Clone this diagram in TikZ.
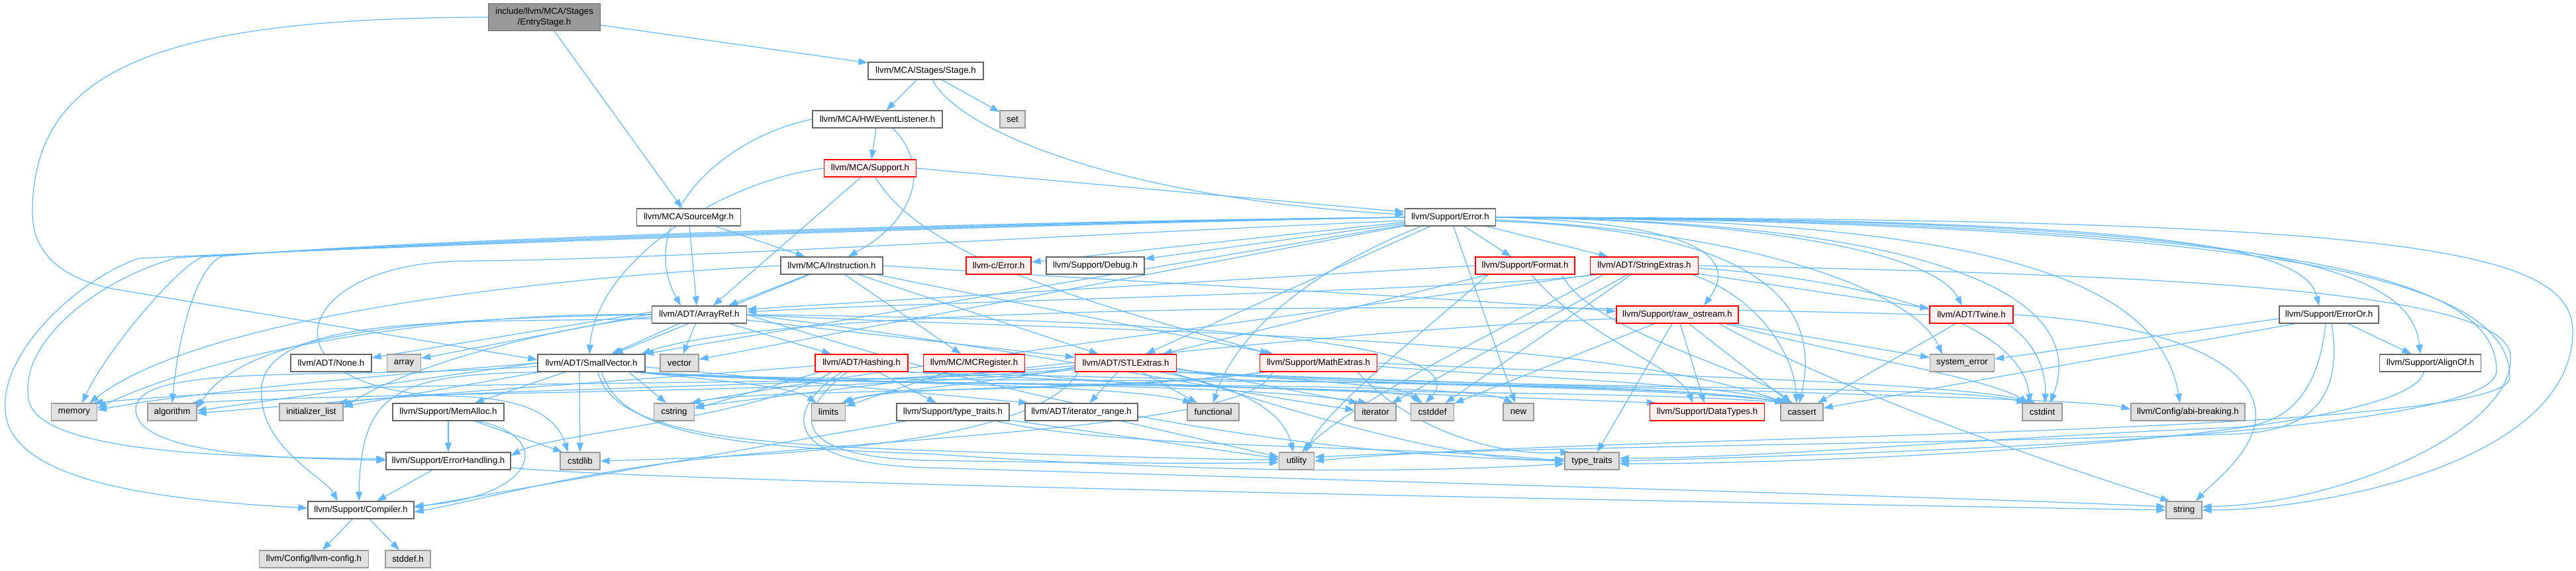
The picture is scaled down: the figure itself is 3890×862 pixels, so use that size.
\documentclass[tikz,border=0pt]{standalone}
\usepackage{fontspec}
\setmainfont{Liberation Sans}
\usetikzlibrary{arrows.meta,calc}
\pgfdeclarelayer{bg}
\pgfsetlayers{bg,main}
\definecolor{edgec}{HTML}{63B8FF}
\definecolor{bdgray}{HTML}{666666}
\definecolor{sysbd}{HTML}{999999}
\definecolor{sysfill}{HTML}{E0E0E0}
\definecolor{rootfill}{HTML}{999999}
\definecolor{redfill}{HTML}{FFF0F0}
\definecolor{redbd}{HTML}{FF0000}
\tikzset{
 nbox/.style={rectangle, line width=1.3pt, minimum height=26pt, inner sep=0pt, font=\fontsize{13.3pt}{15.5pt}\selectfont, text=black},
 wn/.style={nbox, draw=bdgray, fill=white},
 gn/.style={nbox, draw=sysbd, fill=sysfill},
 rn/.style={nbox, draw=redbd, fill=redfill},
 rootn/.style={nbox, draw=bdgray, fill=rootfill, align=center, minimum height=41pt},
 ed/.style={draw=edgec, line width=1.2pt, -{Triangle[length=14pt,width=10pt]}},
}
\begin{document}
\begin{tikzpicture}[x=1pt,y=-1pt]
\useasboundingbox (0,0) rectangle (3890,862);
% nodes
\node[rootn, minimum width=169pt] (root) at (822,26) {include/llvm/MCA/Stages\\/EntryStage.h};
\node[wn, minimum width=174pt] (stage) at (1398,107) {llvm/MCA/Stages/Stage.h};
\node[wn, minimum width=196pt] (hw) at (1325,180) {llvm/MCA/HWEventListener.h};
\node[gn, minimum width=38pt] (set) at (1529,180) {set};
\node[rn, minimum width=139pt] (mcasup) at (1314,254) {llvm/MCA/Support.h};
\node[wn, minimum width=157pt] (srcmgr) at (1040,328) {llvm/MCA/SourceMgr.h};
\node[wn, minimum width=137pt] (err) at (2190,328) {llvm/Support/Error.h};
\node[wn, minimum width=154pt] (instr) at (1256,401) {llvm/MCA/Instruction.h};
\node[rn, minimum width=98pt] (cerr) at (1508,401) {llvm-c/Error.h};
\node[wn, minimum width=148pt] (debug) at (1654,401) {llvm/Support/Debug.h};
\node[rn, minimum width=150pt] (format) at (2303,401) {llvm/Support/Format.h};
\node[rn, minimum width=163pt] (strext) at (2483,401) {llvm/ADT/StringExtras.h};
\node[wn, minimum width=143pt] (aref) at (1056,475) {llvm/ADT/ArrayRef.h};
\node[rn, minimum width=184pt] (rawos) at (2533,475) {llvm/Support/raw\_ostream.h};
\node[rn, minimum width=126pt] (twine) at (2977,475) {llvm/ADT/Twine.h};
\node[wn, minimum width=150pt] (erroror) at (3517,475) {llvm/Support/ErrorOr.h};
\node[wn, minimum width=122pt] (none) at (500,548) {llvm/ADT/None.h};
\node[gn, minimum width=51pt] (array) at (610,548) {array};
\node[wn, minimum width=162pt] (sv) at (893,548) {llvm/ADT/SmallVector.h};
\node[gn, minimum width=58pt] (vector) at (1026,548) {vector};
\node[rn, minimum width=140pt] (hashing) at (1301,548) {llvm/ADT/Hashing.h};
\node[rn, minimum width=153pt] (mcreg) at (1471,548) {llvm/MC/MCRegister.h};
\node[rn, minimum width=153pt] (stlext) at (1700,548) {llvm/ADT/STLExtras.h};
\node[rn, minimum width=177pt] (mathext) at (1991,548) {llvm/Support/MathExtras.h};
\node[gn, minimum width=97pt] (syserr) at (2963,548) {system\_error};
\node[wn, minimum width=153pt] (alignof) at (3670,548) {llvm/Support/AlignOf.h};
\node[gn, minimum width=69pt] (memory) at (112,622) {memory};
\node[gn, minimum width=74pt] (algorithm) at (260,622) {algorithm};
\node[gn, minimum width=96pt] (initlist) at (470,622) {initializer\_list};
\node[wn, minimum width=168pt] (memalloc) at (677,622) {llvm/Support/MemAlloc.h};
\node[gn, minimum width=61pt] (cstring) at (1018,622) {cstring};
\node[gn, minimum width=51pt] (limits) at (1251,622) {limits};
\node[wn, minimum width=170pt] (ttraitsh) at (1439,622) {llvm/Support/type\_traits.h};
\node[wn, minimum width=170pt] (itrange) at (1633,622) {llvm/ADT/iterator\_range.h};
\node[gn, minimum width=78pt] (functional) at (1832,622) {functional};
\node[gn, minimum width=62pt] (iterator) at (2077,622) {iterator};
\node[gn, minimum width=65pt] (cstddef) at (2163,622) {cstddef};
\node[gn, minimum width=46pt] (new) at (2293,622) {new};
\node[rn, minimum width=173pt] (datatypes) at (2578,622) {llvm/Support/DataTypes.h};
\node[gn, minimum width=64pt] (cassert) at (2721,622) {cassert};
\node[gn, minimum width=60pt] (cstdint) at (3084,622) {cstdint};
\node[gn, minimum width=172pt] (abibrk) at (3304,622) {llvm/Config/abi-breaking.h};
\node[wn, minimum width=188pt] (errhand) at (677,696) {llvm/Support/ErrorHandling.h};
\node[gn, minimum width=60pt] (cstdlib) at (876,696) {cstdlib};
\node[gn, minimum width=53pt] (utility) at (1958,696) {utility};
\node[gn, minimum width=82pt] (typetraits) at (2404,696) {type\_traits};
\node[wn, minimum width=160pt] (compiler) at (545,770) {llvm/Support/Compiler.h};
\node[gn, minimum width=54pt] (string) at (3298,770) {string};
\node[gn, minimum width=165pt] (llvmcfg) at (474,844) {llvm/Config/llvm-config.h};
\node[gn, minimum width=68pt] (stddef) at (616,844) {stddef.h};

\begin{pgfonlayer}{bg}
\fill[white] (0,0) rectangle (3890,862);
% root
\draw[ed] (root) -- (stage);
\draw[ed] (root) -- (srcmgr);
\draw[ed] (root.west) .. controls (250,27) and (49,100) .. (49,320) .. controls (49,400) and (120,425) .. (170,436) -- ($(sv.west)+(0,-5)$);
% stage
\draw[ed] (stage) -- (hw);
\draw[ed] (stage) -- (set);
\draw[ed] ($(stage.south)+(10,0)$) .. controls (1450,200) and (1700,300) .. ($(err.west)+(0,-4)$);
% hw
\draw[ed] (hw) -- (mcasup);
\draw[ed] ($(hw.south)+(23,0)$) .. controls (1405,250) and (1385,330) .. ($(instr.north)+(25,0)$);
\draw[ed] (hw.west) .. controls (1080,210) and (960,340) .. ($(aref.north)+(-28,0)$);
% mca support
\draw[ed] (mcasup.west) .. controls (1080,275) and (900,400) .. ($(sv.north)+(-3,0)$);
\draw[ed] ($(mcasup.south)+(-14,0)$) -- ($(aref.north)+(21,0)$);
\draw[ed] (mcasup.east) -- ($(err.west)+(0,-8)$);
\draw[ed] ($(mcasup.south)+(8,0)$) .. controls (1400,400) and (1700,470) .. ($(mathext.north west)+(15,0)$);
% source mgr
\draw[ed] (srcmgr) -- ($(aref.north)+(-4,0)$);
\draw[ed] (srcmgr) -- (instr);
% instruction
\draw[ed] ($(instr.south)+(-36,0)$) -- ($(aref.north)+(44,0)$);
\draw[ed] (instr) -- (sv);
\draw[ed] (instr) -- (stlext);
\draw[ed] (instr) -- (mcreg);
\draw[ed] (instr) -- (mathext);
\draw[ed] (instr.west) .. controls (800,420) and (300,480) .. ($(memory.north east)+(-12,0)$);
\draw[ed] (instr.east) .. controls (1700,425) and (2200,450) .. ($(rawos.west)+(0,-5)$);
% error.h
\draw[ed] (err) -- (cerr);
\draw[ed] (err) -- (debug);
\draw[ed] (err) -- (format);
\draw[ed] (err) -- (strext);
\draw[ed] (err) -- (sv);
\draw[ed] (err) -- (vector);
\draw[ed] (err) -- (stlext);
\draw[ed] ($(err.south west)+(25,0)$) .. controls (1950,420) and (1860,520) .. (functional.north);
\draw[ed] (err) -- (new);
\draw[ed] (err.west) .. controls (1500,334) and (600,362) .. (335,387) .. controls (305,397) and (272,480) .. (algorithm.north);
\draw[ed] (err.west) .. controls (1500,336) and (600,365) .. (306,388) .. controls (270,400) and (160,530) .. ($(memory.north)+(12,0)$);
\draw[ed] (err.west) .. controls (1500,338) and (600,368) .. (268,389) .. controls (150,420) and (20,520) .. (45,610) .. controls (75,690) and (400,690) .. ($(errhand.west)+(0,-3)$);
\draw[ed] (err.west) .. controls (1500,340) and (600,371) .. (210,390) .. controls (120,420) and (0,530) .. (8,620) .. controls (15,730) and (250,755) .. ($(compiler.west)+(0,-3)$);
\draw[ed] ($(err.west)+(0,5)$) .. controls (1500,360) and (1000,392) .. (700,394) .. controls (430,398) and (390,590) .. (680,598) .. controls (800,600) and (840,630) .. ($(cstdlib.north)+(-18,0)$);
\draw[ed] (err.east) .. controls (2500,335) and (2640,370) .. ($(rawos.north)+(40,0)$);
\draw[ed] (err.east) .. controls (2650,332) and (2920,380) .. ($(twine.north)+(-14,0)$);
\draw[ed] ($(err.east)+(0,4)$) .. controls (2650,350) and (2890,440) .. ($(syserr.north)+(-30,0)$);
\draw[ed] ($(err.east)+(0,6)$) .. controls (2600,345) and (2760,430) .. ($(cassert.north)+(-4,0)$);
\draw[ed] (err.east) .. controls (2900,333) and (3160,440) .. ($(cstdint.north)+(12,0)$);
\draw[ed] (err.east) .. controls (3000,330) and (3260,420) .. ($(abibrk.north)+(-12,0)$);
\draw[ed] (err.east) .. controls (3250,330) and (3480,370) .. ($(erroror.north)+(-15,0)$);
\draw[ed] (err.east) .. controls (3420,330) and (3640,400) .. ($(alignof.north)+(-15,0)$);
\draw[ed] (err.east) .. controls (3600,330) and (3885,370) .. (3885,500) .. controls (3885,700) and (3500,770) .. (string.east);
\draw[ed] (err.east) .. controls (3480,334) and (3770,420) .. (3770,560) .. controls (3770,650) and (3000,680) .. (typetraits.east);
\draw[ed] (err.east) .. controls (3500,338) and (3790,430) .. (3790,570) .. controls (3790,660) and (2400,655) .. (utility.east);
% arrayref
\draw[ed] (aref) -- (vector);
\draw[ed] (aref) -- (sv);
\draw[ed] ($(aref.west)+(0,-4)$) -- ($(none.east)+(0,-8)$);
\draw[ed] ($(aref.west)+(0,-1)$) -- ($(array.east)+(0,-7)$);
\draw[ed] (aref) -- (hashing);
\draw[ed] (aref) -- (stlext);
\draw[ed] ($(aref.west)+(0,6)$) .. controls (700,488) and (380,470) .. (395,600) .. controls (400,680) and (490,720) .. ($(compiler.north)+(-35,0)$);
\draw[ed] (aref.west) .. controls (700,480) and (380,490) .. ($(algorithm.east)+(0,-6)$);
\draw[ed] (aref.west) .. controls (700,470) and (350,520) .. ($(memory.east)+(0,-6)$);
\draw[ed] ($(aref.west)+(0,3)$) .. controls (800,500) and (600,560) .. ($(initlist.east)+(0,-6)$);
\draw[ed] (aref.east) .. controls (1600,500) and (2400,500) .. ($(cassert.north west)+(8,0)$);
\draw[ed] (aref.east) .. controls (1600,480) and (2250,500) .. ($(cstddef.north)+(-10,0)$);
\draw[ed] (aref.east) .. controls (1500,520) and (1850,590) .. ($(iterator.west)+(0,-3)$);
\draw[ed] (aref.east) .. controls (1400,560) and (1800,680) .. (typetraits.west);
% smallvector
\draw[ed] ($(sv.east)+(0,6)$) -- ($(itrange.north west)+(5,0)$);
\draw[ed] ($(sv.south west)+(5,0)$) .. controls (600,565) and (545,590) .. ($(compiler.north)+(-3,0)$);
\draw[ed] ($(sv.west)+(0,5)$) .. controls (500,575) and (200,545) .. (205,620) .. controls (210,690) and (450,692) .. ($(errhand.west)+(0,-1)$);
\draw[ed] (sv) -- (memalloc);
\draw[ed] (sv.west) -- ($(algorithm.east)+(0,-2)$);
\draw[ed] ($(sv.south east)+(-12,0)$) .. controls (1300,585) and (2400,560) .. ($(cassert.north west)+(14,0)$);
\draw[ed] ($(sv.south east)+(-14,0)$) .. controls (1300,588) and (2100,575) .. ($(cstddef.north)+(-15,0)$);
\draw[ed] ($(sv.south east)+(-25,0)$) -- ($(cstring.north)+(-12,0)$);
\draw[ed] ($(sv.south east)+(-8,0)$) .. controls (1300,580) and (1700,580) .. ($(functional.north west)+(8,0)$);
\draw[ed] ($(sv.south east)+(-10,0)$) .. controls (1300,583) and (1850,575) .. ($(iterator.north)+(-12,0)$);
\draw[ed] ($(sv.south east)+(-18,0)$) .. controls (1100,575) and (1200,585) .. ($(limits.north west)+(8,0)$);
\draw[ed] ($(sv.south east)+(-16,0)$) .. controls (1300,590) and (2200,570) .. ($(new.north)+(-8,0)$);
\draw[ed] ($(sv.south)+(16,0)$) .. controls (935,655) and (1100,675) .. (1400,685) .. controls (1800,712) and (2100,716) .. ($(typetraits.west)+(0,4)$);
\draw[ed] ($(sv.south)+(10,0)$) .. controls (925,650) and (1100,670) .. (1400,680) .. controls (1700,690) and (1850,694) .. ($(utility.west)+(0,-2)$);
\draw[ed] ($(sv.south)+(-18,0)$) -- (cstdlib.north);
\draw[ed] (sv) -- (initlist);
\draw[ed] (sv.west) .. controls (600,565) and (300,590) .. ($(memory.east)+(0,-3)$);
% memalloc, errorhandling, compiler
\draw[ed] (memalloc) -- (errhand);
\draw[ed] ($(memalloc.south east)+(-45,0)$) -- ($(cstdlib.north west)+(4,0)$);
\draw[ed] ($(memalloc.south east)+(-40,0)$) .. controls (840,660) and (810,750) .. ($(compiler.east)+(0,-6)$);
\draw[ed] (errhand) -- (compiler);
\draw[ed] ($(errhand.east)+(0,10)$) .. controls (1000,730) and (2800,762) .. (string.west);
\draw[ed] (compiler) -- (llvmcfg);
\draw[ed] (compiler) -- (stddef);
% support type_traits, iterator_range
\draw[ed] ($(ttraitsh.south west)+(15,0)$) -- ($(compiler.east)+(0,-4)$);
\draw[ed] ($(ttraitsh.south east)+(-20,0)$) .. controls (1700,680) and (2100,670) .. (typetraits.west);
\draw[ed] (ttraitsh) -- (utility);
\draw[ed] (itrange) -- (utility);
% hashing
\draw[ed] (hashing) -- (ttraitsh);
\draw[ed] ($(hashing.south west)+(25,0)$) .. controls (1150,630) and (830,655) .. ($(errhand.east)+(0,-8)$);
\draw[ed] (hashing.south east) .. controls (1700,580) and (2300,600) .. ($(datatypes.north west)+(10,0)$);
\draw[ed] ($(hashing.west)+(0,4)$) .. controls (1150,560) and (700,590) .. ($(algorithm.east)+(0,2)$);
\draw[ed] ($(hashing.south east)+(-5,0)$) .. controls (1800,575) and (2500,580) .. ($(cassert.north)+(-12,0)$);
\draw[ed] ($(hashing.south west)+(8,0)$) -- ($(cstring.east)+(0,-5)$);
\draw[ed] ($(hashing.south)+(-30,0)$) .. controls (1180,620) and (1180,700) .. (1400,706) .. controls (2200,730) and (3000,752) .. ($(string.west)+(0,-5)$);
\draw[ed] ($(hashing.south)+(-22,0)$) .. controls (1190,630) and (1200,690) .. (1400,695) .. controls (1700,700) and (1850,700) .. ($(utility.west)+(0,2)$);
% mcregister
\draw[ed] (mcreg) -- (limits);
\draw[ed] ($(mcreg.south east)+(-20,0)$) .. controls (1800,600) and (2400,585) .. ($(cassert.north)+(-18,0)$);
% stlextras
\draw[ed] (stlext) -- (itrange);
\draw[ed] (stlext) -- (functional);
\draw[ed] ($(stlext.south east)+(-25,0)$) .. controls (1850,580) and (1935,610) .. ($(utility.north)+(-5,0)$);
\draw[ed] ($(stlext.east)+(0,8)$) -- ($(iterator.north west)+(6,0)$);
\draw[ed] ($(stlext.east)+(0,10)$) .. controls (1950,575) and (2120,580) .. ($(cstddef.north)+(-20,0)$);
\draw[ed] (stlext.south east) .. controls (2100,585) and (2550,580) .. ($(cassert.north west)+(6,0)$);
\draw[ed] (stlext.south east) .. controls (2300,590) and (2950,580) .. ($(cstdint.north west)+(6,0)$);
\draw[ed] ($(stlext.south east)+(-10,0)$) .. controls (1950,620) and (2200,700) .. ($(typetraits.west)+(0,-3)$);
\draw[ed] ($(stlext.west)+(0,6)$) .. controls (1500,580) and (1320,590) .. ($(limits.north east)+(-6,0)$);
\draw[ed] ($(stlext.west)+(0,8)$) .. controls (1300,590) and (600,565) .. ($(memory.north east)+(-6,0)$);
\draw[ed] ($(stlext.west)+(0,10)$) .. controls (1300,595) and (600,590) .. ($(algorithm.north east)+(-8,0)$);
\draw[ed] ($(stlext.west)+(0,4)$) .. controls (1300,585) and (700,585) .. ($(initlist.north east)+(-8,0)$);
\draw[ed] ($(stlext.south west)+(5,0)$) .. controls (1560,680) and (1100,690) .. (cstdlib.east);
\draw[ed] (stlext.south east) .. controls (2500,590) and (3150,600) .. ($(abibrk.west)+(0,-4)$);
% mathextras
\draw[ed] ($(mathext.east)+(0,5)$) .. controls (2300,570) and (2600,580) .. ($(cassert.north west)+(10,0)$);
\draw[ed] (mathext.east) .. controls (2400,565) and (2950,575) .. ($(cstdint.north)+(-10,0)$);
\draw[ed] ($(mathext.south west)+(10,0)$) .. controls (1700,590) and (1350,580) .. ($(limits.north east)+(-3,0)$);
\draw[ed] ($(mathext.south west)+(5,0)$) .. controls (1700,595) and (1150,585) .. ($(cstring.north east)+(-5,0)$);
\draw[ed] ($(mathext.south east)+(-30,0)$) .. controls (2120,640) and (2250,690) .. ($(typetraits.north west)+(8,0)$);
\draw[ed] ($(mathext.south west)+(20,0)$) .. controls (1890,650) and (1300,660) .. (1000,700) .. controls (850,720) and (700,760) .. ($(compiler.east)+(0,3)$);
% stringextras
\draw[ed] ($(strext.south west)+(10,0)$) .. controls (2200,440) and (1400,455) .. ($(aref.east)+(0,-4)$);
\draw[ed] (strext) -- (twine);
\draw[ed] (strext) -- (iterator);
\draw[ed] (strext) -- (cstddef);
\draw[ed] ($(strext.south east)+(-10,0)$) .. controls (2660,450) and (2710,540) .. ($(cassert.north)+(-8,0)$);
\draw[ed] ($(strext.east)+(0,4)$) .. controls (2800,420) and (3050,480) .. ($(cstdint.north)+(-18,0)$);
\draw[ed] (strext.east) .. controls (3300,415) and (3760,440) .. (3790,530) .. controls (3810,640) and (3550,760) .. ($(string.east)+(0,-5)$);
\draw[ed] ($(strext.south west)+(20,0)$) .. controls (2300,480) and (2050,600) .. ($(utility.north)+(8,0)$);
\draw[ed] ($(strext.south west)+(4,0)$) .. controls (2000,470) and (1300,560) .. ($(cstring.north east)+(-6,0)$);
% format
\draw[ed] (format.west) .. controls (1900,420) and (1400,450) .. ($(aref.east)+(0,-8)$);
\draw[ed] (format) -- (stlext);
\draw[ed] ($(format.south)+(10,0)$) .. controls (2380,500) and (2540,560) .. ($(datatypes.north)+(-22,0)$);
\draw[ed] ($(format.south east)+(-20,0)$) .. controls (2400,500) and (2650,560) .. ($(cassert.north)+(-16,0)$);
\draw[ed] ($(format.south west)+(20,0)$) .. controls (2150,500) and (2000,620) .. ($(utility.north)+(14,0)$);
% raw_ostream
\draw[ed] (rawos) -- (datatypes);
\draw[ed] (rawos) -- (cassert);
\draw[ed] (rawos) -- (cstddef);
\draw[ed] ($(rawos.south east)+(-20,0)$) .. controls (2800,540) and (3000,570) .. ($(cstdint.north west)+(10,0)$);
\draw[ed] (rawos) -- (syserr);
\draw[ed] (rawos) -- (typetraits);
\draw[ed] ($(rawos.south east)+(-30,0)$) .. controls (2800,600) and (3100,700) .. ($(string.north west)+(6,0)$);
\draw[ed] ($(rawos.west)+(0,6)$) .. controls (2000,500) and (1400,570) .. ($(cstring.east)+(0,-8)$);
% twine
\draw[ed] (twine.west) .. controls (2000,450) and (1150,470) .. ($(sv.north east)+(-6,0)$);
\draw[ed] (twine) -- (cassert);
\draw[ed] ($(twine.south east)+(-10,0)$) .. controls (3080,520) and (3090,570) .. ($(cstdint.north)+(4,0)$);
\draw[ed] (twine.east) .. controls (3300,490) and (3420,560) .. (3405,640) .. controls (3395,690) and (3340,730) .. ($(string.north)+(18,0)$);
% erroror, alignof
\draw[ed] (erroror) -- (alignof);
\draw[ed] ($(erroror.west)+(0,6)$) -- ($(syserr.east)+(0,-6)$);
\draw[ed] ($(erroror.south west)+(25,0)$) -- ($(cassert.east)+(0,-6)$);
\draw[ed] ($(erroror.south)+(-5,0)$) .. controls (3500,600) and (3450,640) .. (3380,645) .. controls (3000,660) and (2700,690) .. ($(typetraits.east)+(0,-4)$);
\draw[ed] ($(erroror.south)+(4,0)$) .. controls (3540,610) and (3480,650) .. (3380,655) .. controls (2900,670) and (2300,675) .. ($(utility.east)+(0,-6)$);
\draw[ed] ($(alignof.south)+(-10,0)$) .. controls (3640,660) and (2800,700) .. ($(typetraits.east)+(0,4)$);
\end{pgfonlayer}
\end{tikzpicture}
\end{document}
